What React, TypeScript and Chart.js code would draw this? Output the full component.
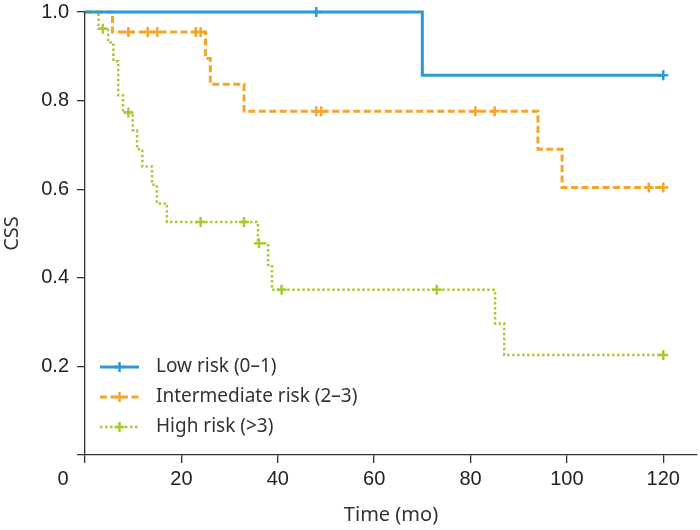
import { useEffect, useRef } from 'react';
import { Chart, registerables } from 'chart.js';

Chart.register(...registerables);

// ---- data ----
const seriesLabels = ['Low risk (0–1)', 'Intermediate risk (2–3)', 'High risk (>3)'];

const lowTimes = [0, 48, 70, 120];
const lowSurv = [1.0, 1.0, 0.857, 0.857];
const lowCensored = [false, true, false, true];

const midTimes = [0, 5.7, 9, 13, 15, 23, 24, 25, 26, 33, 48, 49, 81, 85, 94, 99, 117, 120];
const midSurv = [1.0, 0.955, 0.955, 0.955, 0.955, 0.955, 0.955, 0.895, 0.837, 0.776, 0.776, 0.776, 0.776, 0.776, 0.69, 0.604, 0.604, 0.604];
const midCensored = [false, false, true, true, true, true, true, false, false, false, true, true, true, true, false, false, true, true];

const highTimes = [0, 2.8, 3.7, 4.8, 5.9, 6.9, 7.9, 9.0, 9.9, 10.8, 11.9, 13.9, 14.9, 17.0, 24, 33, 35.9, 36.1, 38.0, 38.8, 40.8, 73, 85.1, 87, 120];
const highSurv = [1.0, 0.962, 0.962, 0.931, 0.889, 0.812, 0.773, 0.773, 0.733, 0.69, 0.651, 0.61, 0.568, 0.526, 0.526, 0.526, 0.478, 0.478, 0.429, 0.373, 0.373, 0.373, 0.297, 0.226, 0.226];
const highCensored = [false, false, true, false, false, false, false, true, false, false, false, false, false, false, true, true, false, true, false, false, true, true, false, false, true];

const xTicks = [0, 20, 40, 60, 80, 100, 120];
const yTicks = [0, 0.2, 0.4, 0.6, 0.8, 1.0];

const colors = ['#2C9AD3', '#F4A52A', '#A6CB31'];

function toPoints(times: number[], surv: number[]) {
  return times.map((t, i) => ({ x: t, y: surv[i] }));
}

const legendPlugin = {
  id: 'kmLegend',
  afterDraw(chart: any) {
    const ctx = chart.ctx as CanvasRenderingContext2D;
    const left = 100;
    const sample = 39;
    const top = 367;
    const gap = 30;
    chart.data.datasets.forEach((ds: any, i: number) => {
      const y = top + i * gap;
      ctx.save();
      ctx.strokeStyle = ds.borderColor;
      ctx.lineWidth = ds.borderWidth;
      ctx.setLineDash(ds.borderDash || []);
      ctx.beginPath();
      ctx.moveTo(left, y);
      ctx.lineTo(left + sample, y);
      ctx.stroke();
      ctx.setLineDash([]);
      const cx = left + sample / 2;
      const r = 5;
      ctx.lineWidth = 2.5;
      ctx.beginPath();
      ctx.moveTo(cx - r, y);
      ctx.lineTo(cx + r, y);
      ctx.moveTo(cx, y - r);
      ctx.lineTo(cx, y + r);
      ctx.stroke();
      ctx.fillStyle = '#333';
      ctx.font = '19px "Noto Sans"';
      ctx.textBaseline = 'middle';
      ctx.textAlign = 'left';
      ctx.fillText(ds.label, left + sample + 17, y);
      ctx.restore();
    });
  },
};

const originPlugin = {
  id: 'originLabel',
  afterDraw(chart: any) {
    const ctx = chart.ctx as CanvasRenderingContext2D;
    const x = chart.scales.x.getPixelForValue(0) - 22;
    const y = chart.chartArea.bottom + 24;
    ctx.save();
    ctx.fillStyle = '#222';
    ctx.font = '20px "Liberation Sans"';
    ctx.textAlign = 'center';
    ctx.textBaseline = 'middle';
    ctx.fillText('0', x, y);
    ctx.restore();
  },
};

export default function App() {
  const ref = useRef<HTMLCanvasElement | null>(null);

  useEffect(() => {
    if (!ref.current) return;
    const mk = (label: string, color: string, times: number[], surv: number[], cens: boolean[], dash: number[], width: number) => ({
      label,
      data: toPoints(times, surv),
      borderColor: color,
      backgroundColor: color,
      borderWidth: width,
      borderDash: dash,
      stepped: true,
      fill: false,
      clip: false as any,
      pointStyle: 'cross',
      pointRadius: cens.map((c) => (c ? 5 : 0)),
      pointHoverRadius: 0,
      pointBorderWidth: 2.5,
      pointBorderColor: color,
    });

    const chart = new Chart(ref.current, {
      type: 'line',
      data: {
        datasets: [
          mk(seriesLabels[0], colors[0], lowTimes, lowSurv, lowCensored, [], 3),
          mk(seriesLabels[1], colors[1], midTimes, midSurv, midCensored, [7, 3.5], 3),
          mk(seriesLabels[2], colors[2], highTimes, highSurv, highCensored, [2.5, 2.5], 2.5),
        ] as any,
      },
      options: {
        animation: false,
        responsive: false,
        maintainAspectRatio: false,
        layout: { autoPadding: false, padding: { top: 12, right: 3, left: 0, bottom: 0 } },
        plugins: { legend: { display: false }, tooltip: { enabled: false } },
        events: [],
        scales: {
          x: {
            type: 'linear',
            min: 0,
            max: 127,
            afterBuildTicks: (scale: any) => {
              scale.ticks = xTicks.map((v) => ({ value: v }));
            },
            afterFit: (scale: any) => {
              scale.height = 75;
              scale.paddingLeft = 0;
              scale.paddingRight = 0;
            },
            ticks: {
              callback: (v: any) => (Number(v) === 0 ? '' : String(v)),
              font: { family: '"Liberation Sans"', size: 20 },
              color: '#222',
              padding: 4,
              maxRotation: 0,
              autoSkip: false,
            },
            grid: { drawOnChartArea: false, drawTicks: true, tickLength: 8, color: '#333', lineWidth: 1.3 },
            border: { display: true, color: '#333', width: 1.3 },
            title: {
              display: true,
              text: 'Time (mo)',
              font: { family: '"Noto Sans"', size: 20 },
              color: '#333',
              padding: { top: 0, bottom: 3 },
            },
          },
          y: {
            type: 'linear',
            min: 0,
            max: 1,
            afterBuildTicks: (scale: any) => {
              scale.ticks = yTicks.map((v) => ({ value: v }));
            },
            afterFit: (scale: any) => {
              scale.width = 85;
              scale.paddingTop = 0;
              scale.paddingBottom = 0;
            },
            ticks: {
              callback: (v: any) => (Number(v) === 0 ? '' : Number(v).toFixed(1)),
              font: { family: '"Liberation Sans"', size: 20 },
              color: '#222',
              padding: 8,
            },
            grid: { drawOnChartArea: false, drawTicks: true, tickLength: 8, color: '#333', lineWidth: 1.3 },
            border: { display: true, color: '#333', width: 1.3 },
            title: {
              display: true,
              text: 'CSS',
              font: { family: '"Noto Sans"', size: 20 },
              color: '#333',
              padding: { top: 0, bottom: 0 },
            },
          },
        },
      },
      plugins: [legendPlugin, originPlugin],
    });
    return () => chart.destroy();
  }, []);

  return (
    <div style={{ position: 'absolute', left: 0, top: 0, width: 700, height: 530 }}>
      <canvas ref={ref} width={700} height={530} style={{ display: 'block', width: 700, height: 530 }} />
    </div>
  );
}
